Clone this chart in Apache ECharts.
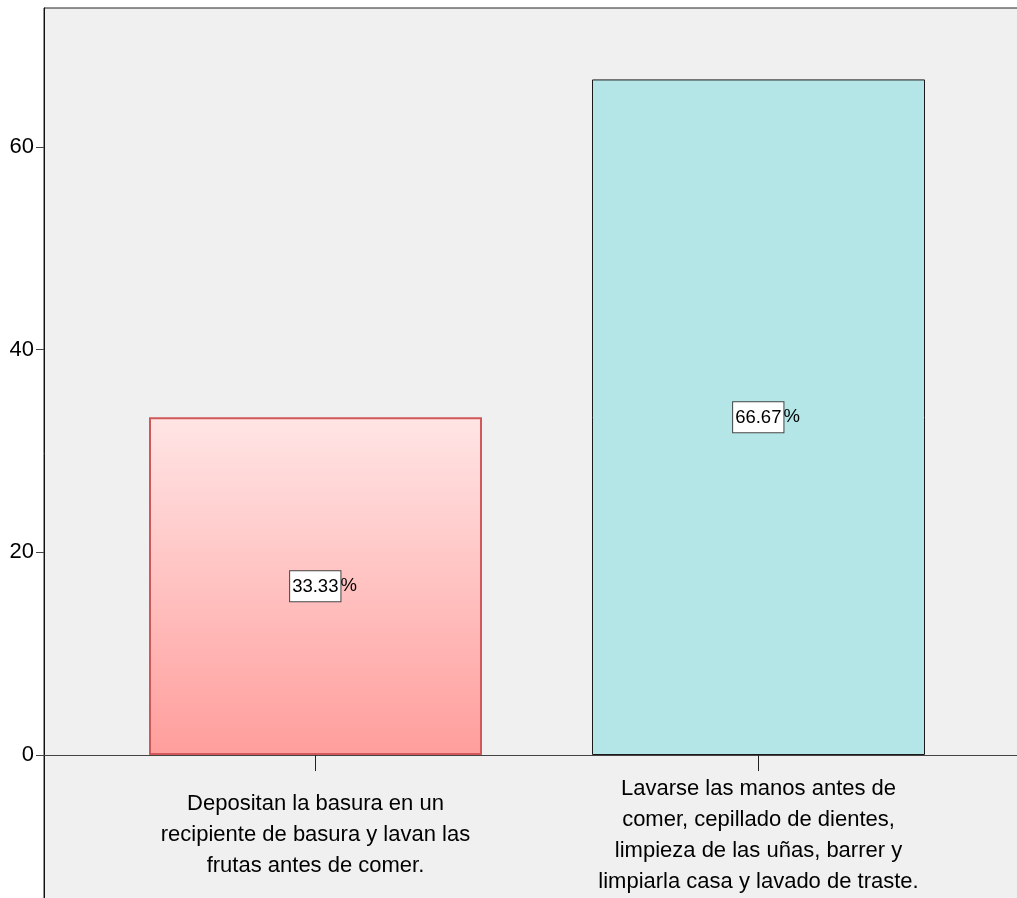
<!DOCTYPE html>
<html>
<head>
<meta charset="utf-8">
<script src="https://cdn.jsdelivr.net/npm/echarts@6/dist/echarts.min.js"></script>
<style>
  html, body { margin: 0; padding: 0; background: #fff; }
  #chart { width: 1017px; height: 898px; }
</style>
</head>
<body>
<div id="chart"></div>
<script>
// categorias (con saltos de linea como en la figura)
const categories = [
    'Depositan la basura en un\nrecipiente de basura y lavan las\nfrutas antes de comer.',
    'Lavarse las manos antes de\ncomer, cepillado de dientes,\nlimpieza de las uñas, barrer y\nlimpiarla casa y lavado de traste.'
];
const percentValues = [33.33, 66.67];
const yTicks = [0, 20, 40, 60];
const yMin = -14.31;
const yMax = 73.72;

const fontFamily = "'Liberation Sans', Arial, sans-serif";

const chart = echarts.init(document.getElementById('chart'));

// estilo de cada barra
const barStyles = [
    {
        color: new echarts.graphic.LinearGradient(0, 0, 0, 1, [
            {offset: 0, color: '#ffe5e5'},
            {offset: 1, color: '#ff9e9c'}
        ]),
        borderColor: '#d0585a',
        borderWidth: 2
    },
    {
        color: '#b4e6e8',
        borderColor: '#1a1a1a',
        borderWidth: 1
    }
];

const labelText = {fontSize: 18.5, fontFamily: fontFamily, color: '#000', lineHeight: 20};

const option = {
    backgroundColor: '#fff',
    animation: false,
    grid: [
        // marco gris
        {left: 44, top: 8, right: -10, bottom: -2, outerBoundsMode: 'none', containLabel: false,
         show: true, backgroundColor: '#f0f0f0', borderColor: '#222', borderWidth: 1},
        // area de las barras: su borde inferior es el cero
        {left: 94, top: 8, right: 37, bottom: 143, outerBoundsMode: 'none', containLabel: false}
    ],
    xAxis: [
        {
            gridIndex: 0,
            type: 'category',
            data: [''],
            axisLine: {show: true, onZero: true, lineStyle: {color: '#444', width: 1}},
            axisTick: {show: false},
            axisLabel: {show: false}
        },
        {
            gridIndex: 1,
            type: 'category',
            data: categories,
            axisLine: {show: true, lineStyle: {color: '#444', width: 1}},
            axisTick: {show: true, alignWithLabel: true, length: 16, lineStyle: {color: '#222'}},
            axisLabel: {
                interval: 0,
                margin: 80,
                verticalAlign: 'middle',
                lineHeight: 31,
                fontSize: 22,
                color: '#000',
                fontFamily: fontFamily
            }
        }
    ],
    yAxis: [
        {
            gridIndex: 0,
            type: 'value',
            min: yMin,
            max: yMax,
            splitLine: {show: false},
            axisLine: {show: true, lineStyle: {color: '#111'}},
            axisTick: {show: true, customValues: yTicks, length: 8, lineStyle: {color: '#444'}},
            axisLabel: {customValues: yTicks, margin: 10, fontSize: 22, color: '#000', fontFamily: fontFamily}
        },
        {
            gridIndex: 1,
            type: 'value',
            min: 0,
            max: yMax,
            show: false,
            splitLine: {show: false}
        }
    ],
    series: [
        {
            type: 'bar',
            xAxisIndex: 1,
            yAxisIndex: 1,
            barWidth: 333,
            data: percentValues.map((v, i) => ({value: v, itemStyle: barStyles[i]})),
            label: {
                show: true,
                position: 'inside',
                formatter: p => '{sp| }{box|' + p.value.toFixed(2) + '}{pct|%}',
                rich: {
                    sp: Object.assign({}, labelText, {width: 16}),
                    box: Object.assign({}, labelText, {
                        backgroundColor: '#fff',
                        borderColor: '#444',
                        borderWidth: 1,
                        padding: [6, 2, 5, 2]
                    }),
                    pct: Object.assign({}, labelText)
                }
            }
        }
    ]
};

chart.setOption(option);
</script>
</body>
</html>
